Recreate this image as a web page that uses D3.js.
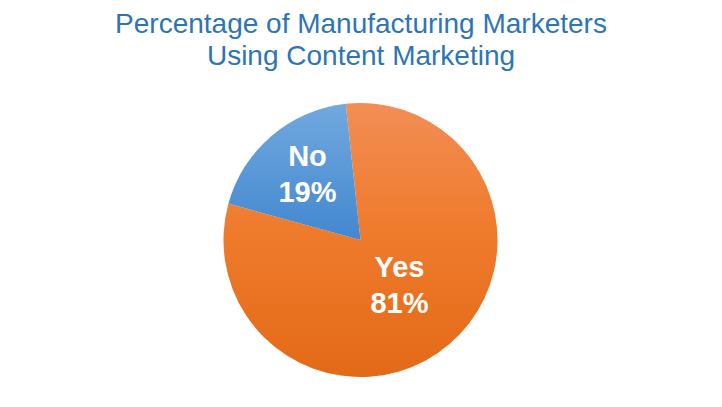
<!DOCTYPE html>
<html>
<head>
<meta charset="utf-8">
<script src="https://cdn.jsdelivr.net/npm/d3@7"></script>
<style>
  body { margin: 0; background: #fff; }
  svg { display: block; }
</style>
</head>
<body>
<div id="container"></div>
<script>
/* CONSTANTS AND GLOBALS */
const width = 722,
height = 407,
cx = 360.5, cy = 240, radius = 137;

// data
const categories = ["Yes", "No"];
const values = [81, 19];
const titleLines = ["Percentage of Manufacturing Marketers", "Using Content Marketing"];

// gradient stops per slice: [offset, colour]
const colors = {
    Yes: [[0, "#F28E55"], [0.45, "#EF7B2D"], [1, "#E36A17"]],
    No: [[0, "#72A9DE"], [0.5, "#4287D0"], [1, "#2E6FB5"]]
};

const svg = d3.select("#container").append("svg")
    .attr("width", width)
    .attr("height", height);

// gradients, top to bottom of the pie (in the pie group's coords)
const defs = svg.append("defs");
categories.forEach(c => {
    defs.append("linearGradient")
        .attr("id", "grad-" + c)
        .attr("gradientUnits", "userSpaceOnUse")
        .attr("x1", 0).attr("y1", -radius)
        .attr("x2", 0).attr("y2", radius)
        .selectAll("stop")
        .data(colors[c])
        .join("stop")
        .attr("offset", d => d[0])
        .attr("stop-color", d => d[1]);
});

// title
svg.append("text")
    .attr("x", width / 2)
    .attr("y", 33)
    .attr("text-anchor", "middle")
    .attr("font-family", "Liberation Sans, Arial, sans-serif")
    .attr("font-size", "28px")
    .attr("fill", "#2E75B6")
    .selectAll("tspan")
    .data(titleLines)
    .join("tspan")
    .attr("x", width / 2)
    .attr("dy", (d, i) => i === 0 ? 0 : 32)
    .text(d => d);

// pie, starting a little left of 12 o'clock
const startAngle = -0.108;
const pie = d3.pie()
    .sort(null)
    .value(d => d.value)
    .startAngle(startAngle)
    .endAngle(startAngle + 2 * Math.PI);

const data = categories.map((c, i) => ({ name: c, value: values[i] }));
const arcs = pie(data);

const arc = d3.arc().innerRadius(0).outerRadius(radius);

const g = svg.append("g").attr("transform", `translate(${cx}, ${cy})`);

g.selectAll("path")
    .data(arcs)
    .join("path")
    .attr("d", arc)
    .attr("fill", d => `url(#grad-${d.data.name})`);

// labels (first line baseline offset from the centre)
const labelOffsets = { Yes: [39, 37], No: [-53, -74] };
const labels = g.selectAll("text.lbl")
    .data(arcs)
    .join("text")
    .attr("class", "lbl")
    .attr("text-anchor", "middle")
    .attr("font-family", "Liberation Sans, Arial, sans-serif")
    .attr("font-weight", "bold")
    .attr("font-size", "29px")
    .attr("fill", "#fff")
    .attr("transform", d => `translate(${labelOffsets[d.data.name][0]}, ${labelOffsets[d.data.name][1]})`);

labels.append("tspan")
    .attr("x", 0)
    .attr("dy", 0)
    .text(d => d.data.name);
labels.append("tspan")
    .attr("x", 0)
    .attr("dy", 36)
    .text(d => d.data.value + "%");
</script>
</body>
</html>
